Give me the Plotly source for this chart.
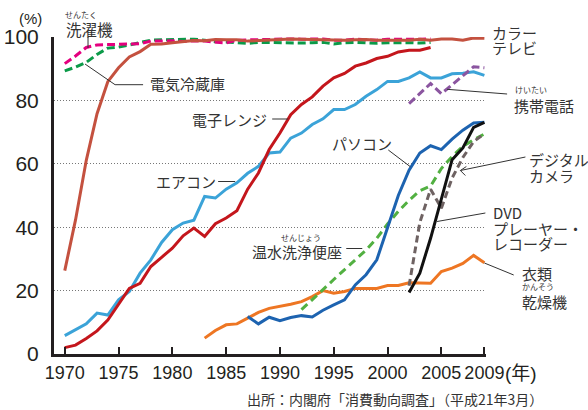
import plotly.graph_objects as go

# ---------------- data (percent of households) ----------------
years_tv = list(range(1970, 2010))
color_tv = [26.3, 42.3, 61.1, 75.8, 85.9, 90.3, 93.7, 95.4, 97.7, 97.8,
            98.2, 98.5, 98.9, 98.8, 99.2, 99.1, 99.1, 98.7, 98.9, 99.0,
            99.3, 99.4, 99.3, 99.2, 99.0, 98.9, 99.0, 99.1, 99.2, 99.0,
            99.0, 99.1, 99.0, 99.3, 99.0, 99.4, 99.4, 99.0, 99.7, 99.6]

years_70_04 = list(range(1970, 2005))
washing = [91.6, 94.0, 96.7, 97.5, 97.6, 97.8, 97.8, 97.9, 98.7, 98.7,
           98.8, 98.6, 98.8, 98.7, 98.4, 98.1, 99.0, 99.1, 99.3, 99.3,
           99.5, 99.4, 99.3, 99.4, 99.4, 99.0, 99.0, 99.3, 99.2, 99.0,
           99.3, 99.2, 99.3, 99.3, 99.4]
fridge = [89.3, 90.5, 92.0, 94.5, 96.5, 96.8, 97.5, 98.3, 99.0, 99.1,
          99.1, 99.2, 99.3, 99.0, 98.5, 98.4, 98.2, 98.0, 98.3, 98.2,
          98.2, 98.0, 98.1, 98.2, 98.3, 97.8, 98.2, 98.3, 98.2, 98.0,
          98.2, 98.3, 98.2, 98.1, 98.3]
microwave = [2.0, 2.8, 4.9, 7.3, 10.7, 15.5, 20.7, 22.3, 27.6, 30.5,
             33.4, 37.3, 39.7, 37.1, 41.1, 42.9, 45.2, 52.0, 57.1, 64.5,
             69.7, 75.5, 78.7, 81.1, 84.5, 87.1, 88.5, 90.8, 91.8, 93.2,
             93.9, 95.3, 95.8, 95.8, 96.7]

years_ac = list(range(1970, 2010))
aircon = [5.8, 7.6, 9.5, 12.9, 12.3, 17.1, 19.7, 25.5, 29.7, 35.2,
          39.2, 41.3, 42.2, 49.7, 49.2, 52.0, 54.0, 57.0, 59.2, 63.4,
          63.7, 68.1, 69.7, 72.4, 74.2, 77.1, 77.1, 78.7, 81.3, 83.4,
          86.0, 86.0, 87.1, 89.0, 87.1, 87.1, 88.4, 88.6, 89.0, 87.9]

years_pc = list(range(1987, 2010))
pc = [11.8, 9.5, 11.6, 10.5, 11.5, 12.1, 11.7, 13.8, 15.5, 17.1,
      21.8, 25.0, 29.7, 39.5, 50.0, 58.0, 63.4, 65.7, 64.5, 67.8,
      70.6, 72.9, 73.1]

years_toilet = list(range(1992, 2010))
toilet = [14.0, 17.3, 20.3, 23.5, 26.5, 29.5, 32.8, 36.5, 41.0, 45.0,
          48.5, 51.5, 53.0, 58.5, 62.3, 65.5, 67.6, 69.4]

years_dryer = list(range(1983, 2010))
dryer = [5.0, 7.4, 9.2, 9.5, 11.3, 13.1, 14.4, 15.0, 15.7, 16.5,
         18.1, 20.0, 19.2, 19.7, 20.7, 20.7, 20.7, 21.6, 21.6, 22.5,
         22.5, 22.3, 26.0, 27.1, 28.6, 31.1, 28.8]

years_new = list(range(2002, 2010))
mobile = [79.0, 82.2, 85.3, 82.1, 85.0, 87.9, 90.6, 90.3]
digicam = [21.5, 41.5, 52.0, 46.0, 55.5, 62.0, 67.0, 69.5]
dvd = [19.4, 25.5, 36.5, 49.0, 61.3, 65.0, 71.5, 73.1]

tick_years = [1970, 1975, 1980, 1985, 1990, 1995, 2000, 2005, 2009]
tick_labels = ["1970", "1975", "1980", "1985", "1990", "1995", "2000", "2005", "2009"]
y_ticks = [0, 20, 40, 60, 80, 100]

# ---------------- geometry helpers (label placement only) ----------------
W, H = 588, 410
ML, MT, MB = 54, 37, 56
PX_PER_YEAR = 10.75
X_MIN, X_MAX = 1969, 2009.15
PLOT_W = PX_PER_YEAR * (X_MAX - X_MIN)
MR = W - ML - PLOT_W
PLOT_H = H - MT - MB


def px_(px):
    return (px - ML) / PLOT_W


def py_(py):
    return (H - MB - py) / PLOT_H


fig = go.Figure()


def add_line(x, y, color, dash="solid", width=3):
    fig.add_trace(go.Scatter(x=x, y=y, mode="lines",
                             line=dict(color=color, width=width, dash=dash),
                             hoverinfo="skip", showlegend=False))


add_line(years_70_04, fridge, "#0b9a48", "8px,4px")
add_line(years_70_04, washing, "#e4007f", "8px,4px")
add_line(years_tv, color_tv, "#c4513f")
add_line(years_ac, aircon, "#3ba3d8")
add_line(years_70_04, microwave, "#c4161c")
add_line(years_dryer, dryer, "#ee7623")
add_line(years_toilet, toilet, "#52b041", "8px,5px")
add_line(years_pc, pc, "#1d63b0")
add_line(years_new, mobile, "#8b55a0", "8px,4px")
add_line(years_new, digicam, "#6e6262", "7px,4px")
add_line(years_new, dvd, "#111111")

JP = "Noto Sans CJK JP"
TXT = "#333333"


def label(text, px, py, size=15, anchor="center", font=JP, color=TXT):
    fig.add_annotation(x=px_(px), y=py_(py), xref="paper", yref="paper", text=text,
                       showarrow=False, xanchor=anchor, yanchor="middle",
                       font=dict(family=font, size=size, color=color))


def seg(x0, y0, x1, y1, width=1):
    fig.add_shape(type="line", xref="paper", yref="paper",
                  x0=px_(x0), y0=py_(y0), x1=px_(x1), y1=py_(y1),
                  line=dict(color=TXT, width=width))


# washing machine
label("せんたく", 81, 15, size=8)
label("洗濯機", 89, 29.5, size=15.5)
seg(88, 37, 88, 48)
# fridge
label("電気冷蔵庫", 187.5, 83)
seg(85, 64, 115, 84.7)
seg(115, 84.7, 143, 84.7)
# microwave
label("電子レンジ", 229, 119.5)
seg(272, 119, 288, 119)
# aircon
label("エアコン", 186, 181.5)
seg(218, 181.5, 235, 181.5)
# PC
label("パソコン", 362, 143.5)
seg(388, 150, 410, 166.7)
# digital camera
label("デジタル", 527, 159.5, anchor="left")
label("カメラ", 527, 175.5, anchor="left")
seg(460, 170.5, 525, 157)
seg(460, 170.5, 466, 166.5)
seg(460, 170.5, 465, 175.5)
# DVD
label("DVD", 491, 212, anchor="left")
label("プレーヤー・", 491, 228, anchor="left")
label("レコーダー", 491, 244, anchor="left")
seg(436.7, 221.5, 485, 213)
# dryer
label("衣類", 520, 273, anchor="left")
label("かんそう", 520, 286, size=8, anchor="left")
label("乾燥機", 520, 301.5, anchor="left")
seg(484, 263, 513.3, 275)
# color TV
label("カラー", 490, 32, anchor="left")
label("テレビ", 490, 47, anchor="left")
# mobile
label("けいたい", 531, 89, size=8)
label("携帯電話", 543.5, 105)
seg(446.7, 89.3, 506.7, 94)
# toilet
label("せんじょう", 301, 237, size=8)
label("温水洗浄便座", 296.5, 251.5)
seg(346, 248.5, 362, 248.5)

# axis extras
label("(%)", 31, 19, size=15, font="Liberation Sans", color="#231f20")
label("(年)", 503, 373.5, size=19, anchor="left",
      font="Liberation Sans, " + JP, color="#231f20")
label("出所：内閣府「消費動向調査」（平成21年3月）", 545, 398.5, size=14, anchor="right")

fig.update_layout(
    width=W, height=H,
    margin=dict(l=ML, r=MR, t=MT, b=MB, pad=0),
    paper_bgcolor="white", plot_bgcolor="white",
    showlegend=False,
    xaxis=dict(range=[X_MIN, X_MAX], tickvals=tick_years, ticktext=tick_labels,
               tickangle=0, automargin=False,
               showline=True, linecolor="#231f20", linewidth=3,
               ticks="inside", ticklen=7, tickwidth=2, tickcolor="#231f20",
               showgrid=False, zeroline=False,
               tickfont=dict(family="Liberation Sans", size=18, color="#231f20")),
    yaxis=dict(range=[0, 100], tickvals=y_ticks, automargin=False,
               showline=True, linecolor="#231f20", linewidth=3,
               ticks="", showgrid=True, gridcolor="#777777", gridwidth=1,
               griddash="1px,2px", zeroline=False, ticklabelstandoff=8,
               tickfont=dict(family="Liberation Sans", size=21, color="#231f20")),
)

fig.write_html("out.html", config={"displayModeBar": False},
               post_script="document.body.style.margin='0';document.body.style.padding='0';")
